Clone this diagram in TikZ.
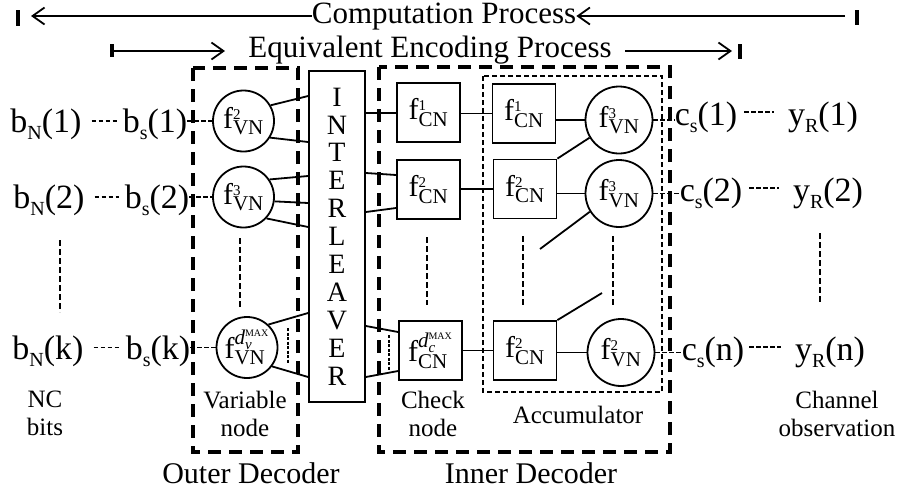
\documentclass[tikz,border=0pt]{standalone}
\usepackage{fontspec}
\setmainfont{Liberation Serif}
\usetikzlibrary{arrows.meta}

% font sizes (1pt = 1 unit of the drawing)
\newcommand\bigtxt{\fontsize{34}{40}\selectfont}
\newcommand\midtxt{\fontsize{30}{36}\selectfont}
\newcommand\titletxt{\fontsize{31}{36}\selectfont}
\newcommand\lbltxt{\fontsize{25}{28}\selectfont}
\newcommand\iltxt{\fontsize{28}{27.9}\selectfont}
% lowered small index used in b_N(1), c_s(1), ...
\newcommand\lsub[1]{\raisebox{-7pt}{\fontsize{20}{20}\selectfont #1}}
% function symbols with stacked indices
\newcommand\fvn[1]{$\mathrm{f}^{\scriptscriptstyle\mathrm{#1}}_{\mathrm{VN}}$}
\newcommand\fcn[1]{$\mathrm{f}^{\scriptscriptstyle\mathrm{#1}}_{\mathrm{CN}}$}
\newcommand\maxtag{\hbox{\fontsize{10}{10}\selectfont MAX}}

\tikzset{
  solidln/.style={line width=1.8pt},
  decbox/.style={line width=4.5pt, dash pattern=on 13pt off 8pt},
  accbox/.style={line width=1.6pt, dash pattern=on 5pt off 3pt},
  vdots/.style={line width=1.6pt, dash pattern=on 6pt off 3pt},
  linkdash/.style={line width=1.6pt, dash pattern=on 4.5pt off 2.5pt},
  tickmark/.style={line width=3.2pt},
  procarrow/.style={line width=1.8pt, -{Straight Barb[length=12pt, width=17pt]}},
  vnode/.style={circle, draw, line width=1.8pt, minimum size=61pt, inner sep=0pt, font=\midtxt},
  avnode/.style={circle, draw, line width=1.8pt, minimum size=67pt, inner sep=0pt, font=\midtxt},
  cnode/.style={rectangle, draw, line width=1.8pt, minimum width=63pt, minimum height=59pt, inner sep=0pt, font=\midtxt},
  sym/.style={inner sep=0pt, font=\bigtxt, anchor=base},
  lbl/.style={inner sep=0pt, font=\lbltxt, align=center},
  title/.style={inner sep=0pt, font=\midtxt, anchor=base},
}

\begin{document}
\begin{tikzpicture}[x=1pt, y=-1pt]
\useasboundingbox (0,0) rectangle (904,493);

% ---------- process arrows ----------
\node[title, font=\titletxt] (cp) at (444,23) {Computation Process};
\node[title, font=\titletxt] (ep) at (430,57) {Equivalent Encoding Process};
\coordinate (cpL) at (31,16);
\coordinate (cpR) at (845,16);
\coordinate (epL) at (113,51);
\coordinate (epLtip) at (225,51);
\coordinate (epRs) at (625,51);
\coordinate (epR) at (732,51);
\draw[tickmark] (18,10) -- (18,26);
\draw[tickmark] (857,10) -- (857,25);
\draw[tickmark] (112,44) -- (112,57);
\draw[tickmark] (740,44) -- (740,59);
\draw[procarrow] (cp.west |- cpL) -- (cpL);
\draw[procarrow] (cpR) -- (cp.east |- cpR);
\draw[procarrow] (epL) -- (epLtip);
\draw[procarrow] (epRs) -- (epR);

% ---------- decoder boxes ----------
\draw[decbox] (193,68) rectangle (298,452);
\draw[decbox] (379,67) rectangle (670,452);
\draw[accbox] (483,76) rectangle (662,392);

% ---------- interleaver ----------
\node[draw, line width=1.8pt, minimum width=56pt, minimum height=331pt, inner sep=0pt,
      align=center, font=\iltxt] (il) at (337,236.5) {I\\N\\T\\E\\R\\L\\E\\A\\V\\E\\R};

% ---------- variable nodes ----------
\node[vnode] (vn1) at (243.5,121) {\fvn{2}};
\node[vnode] (vn2) at (243.5,197) {\fvn{3}};
\node[vnode] (vn3) at (247,347.5) {$\mathrm{f}^{\mathit{d}_{\mathit{v}}^{\maxtag}}_{\mathrm{VN}}$};

% ---------- check nodes ----------
\node[cnode] (cn1) at (428.5,112.5) {\fcn{1}};
\node[cnode] (cn2) at (428.5,189.5) {\fcn{2}};
\node[cnode] (cn3) at (430.5,350.5) {$\mathrm{f}^{\mathit{d}_{\mathit{c}}^{\maxtag}}_{\mathrm{CN}}$};

% ---------- accumulator ----------
\node[cnode] (acn1) at (524,113.5) {\fcn{1}};
\node[cnode] (acn2) at (525,189) {\fcn{2}};
\node[cnode] (acn3) at (525,350.5) {\fcn{2}};
\node[avnode] (avn1) at (619,120) {\fvn{3}};
\node[avnode] (avn2) at (619,193.5) {\fvn{3}};
\node[avnode] (avn3) at (621,352.5) {\fvn{2}};

% ---------- bit labels ----------
\node[sym] (bN1) at (46,132) {b\lsub{N}(1)};
\node[sym] (bs1) at (155,132) {b\lsub{s}(1)};
\node[sym] (bN2) at (49,208) {b\lsub{N}(2)};
\node[sym] (bs2) at (157,208) {b\lsub{s}(2)};
\node[sym] (bN3) at (48,359) {b\lsub{N}(k)};
\node[sym] (bs3) at (158,359) {b\lsub{s}(k)};

\node[sym] (cs1) at (706,125) {c\lsub{s}(1)};
\node[sym] (yR1) at (823,125) {y\lsub{R}(1)};
\node[sym] (cs2) at (711,201) {c\lsub{s}(2)};
\node[sym] (yR2) at (828,201) {y\lsub{R}(2)};
\node[sym] (cs3) at (713,360) {c\lsub{s}(n)};
\node[sym] (yR3) at (830,360) {y\lsub{R}(n)};

% ---------- text labels ----------
\node[lbl] (lnc) at (45,413.5) {NC\\bits};
\node[lbl] (lvar) at (245,413.5) {Variable\\node};
\node[lbl] (lchk) at (433,413.5) {Check\\node};
\node[lbl] (lch) at (837,413.5) {Channel\\observation};
\node[lbl, anchor=base] (lacc) at (578,423) {Accumulator};
\node[title] (lout) at (251,483) {Outer Decoder};
\node[title] (linn) at (531,483) {Inner Decoder};

% ---------- dashed links on the left ----------
\draw[linkdash, shorten <=10pt, shorten >=6pt] (bN1.east |- vn1) -- (bs1.west |- vn1);
\draw[linkdash, shorten <=10pt, shorten >=6pt] (bN2.east |- vn2) -- (bs2.west |- vn2);
\draw[linkdash, shorten <=10pt, shorten >=6pt] (bN3.east |- vn3) -- (bs3.west |- vn3);
\draw[linkdash] (bs1.east |- vn1) -- (vn1.west);
\draw[linkdash] (bs2.east |- vn2) -- (vn2.west);
\draw[linkdash] (bs3.east |- vn3) -- (vn3.west);

% ---------- dashed links on the right ----------
\draw[linkdash] (avn1.east) -- (cs1.west |- avn1);
\draw[linkdash] (avn2.east) -- (cs2.west |- avn2);
\draw[linkdash] (avn3.east) -- (cs3.west |- avn3);
\draw[linkdash, shorten <=7pt, shorten >=14pt] (cs1.east |- 0,112) -- (yR1.west |- 0,112);
\draw[linkdash, shorten <=7pt, shorten >=14pt] (cs2.east |- 0,188) -- (yR2.west |- 0,188);
\draw[linkdash, shorten <=5pt, shorten >=14pt] (cs3.east |- 0,347) -- (yR3.west |- 0,347);

% ---------- edges: variable nodes to interleaver ----------
\draw[solidln] (vn1.30) -- (il.west |- 0,96);
\draw[solidln] (vn1.-32) -- (il.west |- 0,142);
\draw[solidln] (vn2.34) -- (il.west |- 0,176);
\draw[solidln] (vn2.-8) -- (il.west |- 0,203);
\draw[solidln] (vn2.-43) -- (il.west |- 0,227);
\draw[solidln] (vn3.47) -- (il.west |- 0,313);
\draw[solidln] (vn3.-37) -- (il.west |- 0,377);
\coordinate (vdA) at (288,328);
\coordinate (vdB) at (288,363);
\draw[line width=1.6pt, dash pattern=on 3pt off 1.5pt] (vdA) -- (vdB);

% ---------- edges: interleaver to check nodes ----------
\draw[solidln] (il.east |- 0,113) -- (cn1.west |- 0,113);
\draw[solidln] (il.east |- 0,173) -- (cn2.west |- 0,175);
\draw[solidln] (il.east |- 0,212) -- (cn2.west |- 0,208);
\draw[solidln] (il.east |- 0,326) -- (cn3.west |- 0,332);
\draw[solidln] (il.east |- 0,377) -- (cn3.west |- 0,371);
\coordinate (cdA) at (389,335);
\coordinate (cdB) at (389,370);
\draw[line width=1.6pt, dash pattern=on 3pt off 1.5pt] (cdA) -- (cdB);

% ---------- edges: check nodes to accumulator ----------
\draw[solidln] (cn1.east |- acn1) -- (acn1.west);
\draw[solidln] (cn2.east |- acn2) -- (acn2.west);
\draw[solidln] (cn3.east |- acn3) -- (acn3.west);
\draw[solidln] (acn1.east |- avn1) -- (avn1.west);
\draw[solidln] (acn2.east |- avn2) -- (avn2.west);
\draw[solidln] (acn3.east |- avn3) -- (avn3.west);
\coordinate (accA) at (540,249);
\coordinate (accB) at (602,293);
\draw[solidln] (avn1.211) -- (acn2.north east);
\draw[solidln] (avn2.212) -- (accA);
\draw[solidln] (acn3.north east) -- (accB);

% ---------- vertical ellipses ----------
\draw[vdots] (60,240) -- (60,312);
\draw[vdots] (240,238) -- (240,308);
\draw[vdots] (427,237) -- (427,305);
\draw[vdots] (523,236) -- (523,307);
\draw[vdots] (613,236) -- (613,307);
\draw[vdots] (820,233) -- (820,302);
\end{tikzpicture}
\end{document}
